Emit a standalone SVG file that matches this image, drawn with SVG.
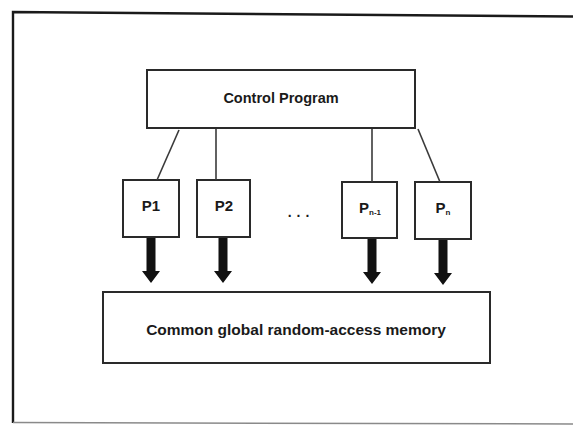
<svg xmlns="http://www.w3.org/2000/svg" width="573" height="425" viewBox="0 0 573 425">
  <style>
    .box { fill: #ffffff; stroke: #2a2a2a; stroke-width: 2; }
    .link { stroke: #3a3a3a; stroke-width: 1.6; fill: none; }
    .frame { stroke: #1a1a1a; stroke-width: 2.4; fill: none; }
    .lbl { font-family: "Liberation Sans", Arial, sans-serif; font-weight: bold; fill: #1a1a1a; text-anchor: middle; }
    .arrow { fill: #111111; }
  </style>
  <defs>
    <!-- thick downward arrow, origin at the top of the shaft -->
    <path id="down" d="M-4.5,0 H4.5 V33 H9 L0,45 L-9,33 H-4.5 Z"/>
  </defs>

  <!-- outer frame -->
  <path class="frame" d="M573,16.5 L13,12 L13,423"/>
  <path d="M13,422.5 L573,424" stroke="#8a8a8a" stroke-width="1.5" fill="none"/>

  <g id="control">
    <rect class="box" x="147" y="70" width="268" height="58"/>
    <text class="lbl" x="281" y="103" font-size="14.5">Control Program</text>
  </g>

  <g id="p1">
    <rect class="box" x="123" y="180" width="56" height="57"/>
    <text class="lbl" x="151" y="211" font-size="15">P1</text>
  </g>
  <g id="p2">
    <rect class="box" x="197" y="180" width="53" height="57"/>
    <text class="lbl" x="224" y="211" font-size="15">P2</text>
  </g>
  <g id="ellipsis">
    <text class="lbl" x="301" y="217" font-size="14" font-weight="normal" letter-spacing="5">...</text>
  </g>
  <g id="pn-1">
    <rect class="box" x="342" y="182" width="55" height="56"/>
    <text class="lbl" x="370" y="213" font-size="15">P<tspan font-size="8" dy="2">n-1</tspan></text>
  </g>
  <g id="pn">
    <rect class="box" x="415" y="182" width="56" height="57"/>
    <text class="lbl" x="443" y="213" font-size="15">P<tspan font-size="8" dy="2">n</tspan></text>
  </g>

  <g id="memory">
    <rect class="box" x="103" y="292" width="387" height="71"/>
    <text class="lbl" x="296" y="335" font-size="15.5">Common global random-access memory</text>
  </g>

  <g id="connectors">
    <line class="link" x1="179" y1="130" x2="157" y2="180"/>
    <line class="link" x1="216" y1="129" x2="216" y2="180"/>
    <line class="link" x1="372" y1="129" x2="372" y2="182"/>
    <line class="link" x1="418" y1="129" x2="440" y2="182"/>
    <use href="#down" class="arrow" x="151" y="238"/>
    <use href="#down" class="arrow" x="223" y="238"/>
    <use href="#down" class="arrow" x="372" y="239"/>
    <use href="#down" class="arrow" x="443" y="240"/>
  </g>
</svg>
